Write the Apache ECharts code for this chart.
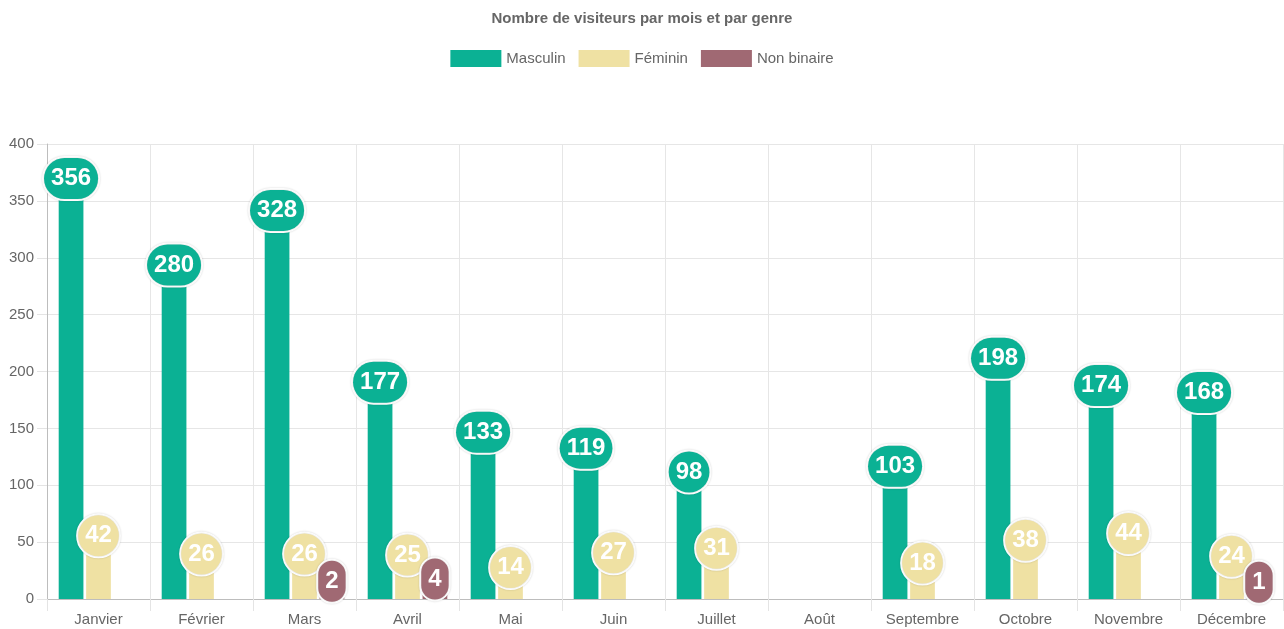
<!DOCTYPE html>
<html>
<head>
<meta charset="utf-8">
<title>Visiteurs par mois et par genre</title>
<script src="https://cdn.jsdelivr.net/npm/echarts@6.0.0/dist/echarts.min.js"></script>
<style>
  html, body { margin: 0; padding: 0; background: #fff; }
  #chart { width: 1284px; height: 629px; }
</style>
</head>
<body>
<div id="chart"></div>
<script>
'use strict';

// données ('-' = pas de valeur)
var mois = ['Janvier', 'Février', 'Mars', 'Avril', 'Mai', 'Juin', 'Juillet', 'Août',
  'Septembre', 'Octobre', 'Novembre', 'Décembre'];
var masculin = [356, 280, 328, 177, 133, 119, 98, '-', 103, 198, 174, 168];
var feminin = [42, 26, 26, 25, 14, 27, 31, '-', 18, 38, 44, 24];
var nonBinaire = ['-', '-', 2, 4, '-', '-', '-', '-', '-', '-', '-', 1];
var yTicks = [0, 50, 100, 150, 200, 250, 300, 350, 400];

var couleurs = ['#0bb194', '#efe1a3', '#a06973'];
var police = '"Liberation Sans", Arial, Helvetica, sans-serif';

var chart = echarts.init(document.getElementById('chart'));

function serie(nom, data, couleur) {
  return {
    name: nom,
    type: 'bar',
    data: data,
    barWidth: '24%',
    barGap: '11%',
    itemStyle: { color: couleur },
    label: {
      show: true,
      position: 'top',
      distance: -5,
      color: '#fff',
      fontFamily: police,
      fontWeight: 'bold',
      fontSize: 24,
      lineHeight: 25,
      padding: [8, 7, 8, 7],
      backgroundColor: couleur,
      borderColor: '#fff',
      borderWidth: 2,
      borderRadius: 22,
      shadowColor: 'rgba(0,0,0,0.18)',
      shadowBlur: 2
    },
    emphasis: { disabled: true }
  };
}

var option = {
  animation: false,
  color: couleurs,
  textStyle: { fontFamily: police },
  title: {
    text: 'Nombre de visiteurs par mois et par genre',
    left: 'center',
    top: 6,
    textStyle: { fontSize: 15, fontWeight: 'bold', color: '#666', fontFamily: police }
  },
  legend: {
    top: 45,
    left: 'center',
    itemWidth: 51,
    itemHeight: 17,
    itemGap: 13,
    icon: 'rect',
    textStyle: { fontSize: 15, color: '#666', fontFamily: police },
    data: ['Masculin', 'Féminin', 'Non binaire']
  },
  grid: { left: 47, right: 1, top: 144, bottom: 30 },
  xAxis: {
    type: 'category',
    data: mois,
    axisLine: { lineStyle: { color: '#bdbdbd' } },
    axisTick: { show: true, length: 12, lineStyle: { color: '#e4e4e4' } },
    axisLabel: { color: '#666', fontSize: 15, margin: 13, fontFamily: police },
    splitLine: { show: true, lineStyle: { color: '#e6e6e6' } }
  },
  yAxis: {
    type: 'value',
    min: yTicks[0],
    max: yTicks[yTicks.length - 1],
    interval: 50,
    axisLine: { show: true, lineStyle: { color: '#bdbdbd' } },
    axisTick: { show: true, length: 10, lineStyle: { color: '#e4e4e4' } },
    axisLabel: { color: '#666', fontSize: 15, margin: 13, fontFamily: police },
    splitLine: { lineStyle: { color: '#e6e6e6' } }
  },
  series: [
    serie('Masculin', masculin, couleurs[0]),
    serie('Féminin', feminin, couleurs[1]),
    serie('Non binaire', nonBinaire, couleurs[2])
  ]
};

chart.setOption(option);
</script>
</body>
</html>
